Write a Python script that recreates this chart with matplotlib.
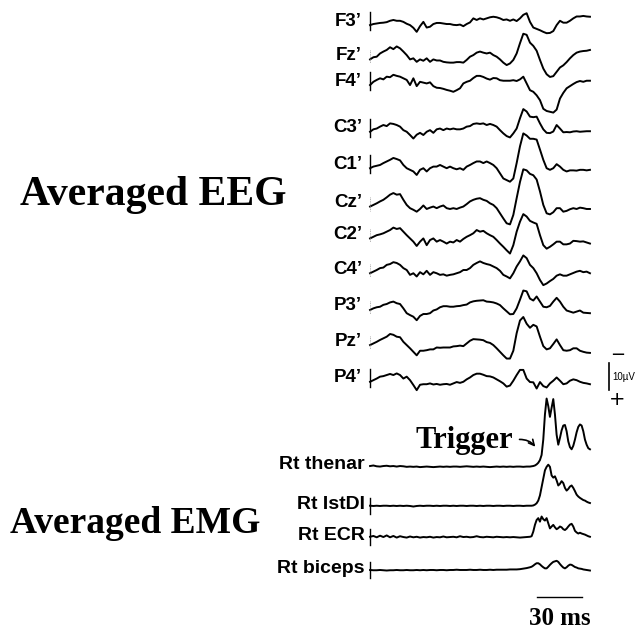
import matplotlib.pyplot as plt
import numpy as np

# sample times (ms, 0 = EMG trigger)
t_eeg = np.linspace(-113.3, 33.3, 67)
t_emg = np.concatenate([np.linspace(-113.3, -6.7, 49), np.linspace(-5.6, 33.3, 36)])

# averaged EEG, microvolts (negative up)
f3 = [0, -0.4, -0.6, -0.8, -0.9, -1.1, -1.6, -1.9, -1.6, -1.6,
      -1.2, -0.5, 0, 1.0, 2.5, 0.4, -1.2, 0.9, 0.6, -0.4,
      -0.8, -0.8, -0.6, -0.4, -0.4, -0.1, 0, -0.2, 0.4, -0.4,
      -1.0, -2.5, -1.9, -2.5, -2.1, -2.5, -2.9, -3.1, -2.9, -2.5,
      -1.9, -2.1, -1.6, -2.1, -1.5, -2.5, -3.8, -4.4, -1.2, 0.9,
      1.4, 1.9, 2.5, 3.0, 2.9, 2.2, 0, -1.6, -0.9, -0.9,
      -1.6, -2.5, -3.2, -3.2, -3.4, -3.2, -3.1]
fz = [0, -0.8, -1.0, -2.2, -2.9, -3.5, -4.5, -3.8, -4.8, -4.1,
      -2.9, -1.6, 0, -0.4, 0.9, 0, 0.5, -0.4, 0.9, 0,
      0.4, 0.4, 0.9, 1.1, 1.2, 1.2, 1.0, 1.0, 1.2, 0.2,
      -1.0, -1.6, -2.5, -2.9, -2.5, -2.2, -2.5, -1.6, -1.0, 0,
      1.2, 2.1, 1.5, 0.2, -2.2, -6.0, -9.5, -9.1, -6.2, -5.0,
      -3.2, 0.2, 3.4, 5.5, 6.5, 6.2, 4.6, 3.0, 2.2, 1.0,
      -0.4, -1.6, -2.5, -2.9, -3.1, -3.2, -3.5]
f4 = [0, -1.2, -1.9, -2.5, -2.1, -3.1, -2.9, -3.8, -3.4, -3.1,
      -2.5, -1.9, 0, -2.5, 0.4, -1.2, -0.9, -0.6, -1.0, 0.4,
      1.0, 1.1, 1.4, 1.8, 2.1, 2.5, 1.9, 1.2, -0.6, -1.2,
      -1.6, -2.6, -3.4, -3.4, -3.0, -2.4, -2.0, -2.6, -2.5, -1.8,
      -1.6, -1.6, -1.6, -1.8, -1.5, -2.1, -3.1, -0.6, 1.9, 2.5,
      3.8, 5.6, 8.8, 9.6, 9.9, 10.2, 9.1, 5.0, 2.9, 1.2,
      0.4, -0.4, -1.1, -1.5, -1.2, -1.6, -1.6]
c3 = [0, -0.9, -1.2, -1.9, -2.5, -2.1, -3.1, -2.9, -2.5, -1.9,
      -0.6, 0, 1.2, 2.5, 1.1, 0.4, 1.2, 0, -0.6, 0.4,
      -0.9, -1.2, -0.6, -1.2, -0.9, -1.2, -0.9, -0.9, -1.2, -1.9,
      -2.1, -2.9, -3.1, -2.9, -3.1, -2.5, -2.9, -2.5, -1.9, -0.6,
      0.6, 1.6, 2.1, 0.6, -1.2, -5.0, -8.4, -7.5, -5.6, -5.4,
      -5.6, -3.1, -0.9, 0.4, 0.5, -0.1, -2.5, -1.2, 0.2, 0.1,
      0.2, -0.1, -0.2, 0, -0.1, -0.2, -0.2]
c1 = [0, -0.6, -0.9, -1.2, -1.9, -2.5, -3.1, -3.8, -3.4, -2.9,
      -1.2, 0, 0.6, 1.2, 2.5, 0.6, 0, 1.2, 0, -0.6,
      -0.6, -1.2, -0.6, 0, -0.6, 0, 0.4, 0, 0.6, -0.6,
      -1.2, -1.9, -2.5, -2.5, -1.9, -2.5, -1.9, -1.2, 0, 1.9,
      3.8, 4.4, 5.0, 3.8, -1.9, -8.1, -12.9, -12.1, -10.9, -10.9,
      -10.6, -6.9, -3.1, 0, 0.6, 0, -1.5, -0.6, 0.6, 1.2,
      0.8, 0.8, 0.9, 0.6, 0.6, 0.8, 0.6]
cz = [0, -0.6, -1.2, -1.9, -2.5, -3.4, -4.4, -5.0, -4.4, -4.6,
      -2.5, -0.6, 0.6, 1.2, 1.9, 0.9, -0.4, 0.9, 0.4, 0,
      0.6, 0, -0.4, 0.6, 0.9, 0.6, 0.9, 0.4, 0, -0.9,
      -1.9, -2.5, -2.9, -3.1, -2.5, -2.1, -1.2, -0.6, 0.6, 2.5,
      4.4, 6.2, 6.6, 3.1, -3.1, -9.1, -13.8, -13.4, -12.1, -11.6,
      -10.0, -5.6, -0.6, 2.5, 2.9, 2.1, 0.6, 0.6, 1.9, 1.6,
      1.0, 0.6, 0.9, 0.4, 0.6, 0.9, 0.9]
c2 = [0, -0.6, -1.2, -1.5, -1.9, -2.5, -3.1, -4.0, -3.5, -3.8,
      -2.5, -1.2, 0, 1.2, 2.8, 1.2, 0, 2.5, 0.6, 0,
      1.2, 0.6, 1.2, 1.9, 1.2, 1.5, 0.6, 1.2, 0.2, -0.6,
      -1.2, -1.9, -3.1, -2.5, -2.8, -1.9, -1.2, -0.6, 0.6, 1.9,
      3.1, 4.4, 5.6, 2.5, -2.5, -6.2, -9.0, -8.1, -6.5, -5.9,
      -5.4, -1.2, 2.5, 3.8, 3.1, 2.2, 1.2, 1.2, 2.2, 2.2,
      1.9, 0.9, 1.0, 1.2, 1.1, 1.5, 1.9]
c4 = [0, -0.6, -1.2, -1.9, -2.1, -3.1, -3.4, -4.1, -3.8, -3.1,
      -1.9, -1.2, 0.6, 0, 1.2, -0.4, 0.4, -0.9, 0.6, -0.4,
      0, 0.6, 0.4, 0.9, 0.6, 0.4, 0, -0.4, -1.2, -1.2,
      -1.9, -3.1, -3.8, -4.4, -3.8, -3.4, -3.1, -2.5, -1.9, -0.9,
      0.6, 1.2, 1.9, 0, -2.5, -4.4, -6.6, -5.6, -3.1, -1.9,
      0, 2.5, 4.4, 3.8, 2.9, 2.1, 0.9, 0.4, 0.9, 0.9,
      0.4, -0.1, -0.6, -0.9, -0.4, -0.6, 0]
p3 = [0, -0.6, -1.0, -1.2, -1.9, -2.2, -2.8, -3.1, -2.5, -2.2,
      -0.6, 1.2, 1.9, 2.5, 3.8, 2.2, 1.5, 1.5, 1.2, 0.2,
      -0.2, -1.0, -1.4, -1.4, -1.2, -1.2, -1.4, -1.5, -1.8, -2.0,
      -2.8, -3.2, -3.4, -3.5, -3.6, -3.1, -3.0, -2.8, -2.4, -1.8,
      -0.6, 0.5, 1.6, 1.5, -0.6, -3.8, -7.2, -6.9, -4.2, -3.5,
      -5.0, -3.1, -1.2, -1.0, -1.5, -3.1, -4.5, -3.1, -1.2, 0.2,
      0.6, 1.0, 0.6, 0.2, 1.0, 1.1, 1.2]
pz = [0, -0.6, -1.2, -1.9, -2.5, -3.1, -4.1, -3.8, -3.1, -2.9,
      -1.2, 0, 1.2, 2.5, 3.8, 2.1, 2.1, 1.9, 1.6, 1.6,
      0.9, 1.0, 0.9, 0.9, 0.9, 0.5, 0.4, 0.2, 0.4, -0.6,
      -1.6, -2.2, -2.1, -2.0, -1.8, -1.1, -0.8, 0, 1.2, 2.5,
      3.8, 5.0, 5.0, 2.1, -4.4, -9.1, -10.4, -7.9, -6.4, -7.5,
      -6.9, -3.1, 0.4, 1.6, 1.2, -0.4, -2.1, 0, 1.9, 2.1,
      1.9, 1.2, 1.2, 2.1, 2.5, 2.8, 2.9]
p4 = [0, -0.6, -1.2, -1.9, -2.1, -2.5, -2.9, -2.5, -3.1, -2.5,
      -1.2, -1.9, -0.6, 1.2, 3.1, 1.1, 0.9, 0.9, 0.6, 1.0,
      0.8, 1.1, 0.9, 0.8, 1.1, 0.6, 0.1, 0.4, 0, -0.9,
      -1.6, -2.5, -3.0, -3.0, -2.6, -2.1, -2.0, -1.6, -0.9, -0.2,
      0.6, 1.8, 1.4, -0.4, -2.5, -4.4, -4.4, -1.2, 0.1, 0.2,
      2.5, 0.1, 1.6, 2.1, 0.6, -0.4, -1.6, -0.4, 0.9, 0.6,
      -0.4, -0.9, -0.6, 0, 0.4, 0.6, 0.9]

# averaged rectified EMG (same display gain)
thenar = [0, -0.2, 0.1, 0.2, 0, -0.1, 0.1, 0, 0.2, 0,
          0.1, 0.3, 0.2, 0.3, 0.2, 0.4, 0.3, 0.2, 0.3, 0.4,
          0.3, 0.2, 0.3, 0.2, 0.3, 0.2, 0.2, 0.3, 0.2, 0.1,
          0.2, 0.3, 0.2, 0.3, 0.2, 0.3, 0.4, 0.3, 0.2, 0.3,
          0.2, 0.3, 0.2, 0.3, 0.2, 0.2, 0.3, 0.2, 0.2,
          0.1, 0, -0.2, -0.6, -1.2, -2.2, -4.1, -9.8, -19.1, -25.0,
          -22.2, -18.2, -21.6, -24.8, -19.1, -11.6, -7.9, -10.4, -13.2, -15.0,
          -15.2, -12.9, -9.1, -7.0, -6.2, -7.5, -9.8, -12.5, -14.5, -15.4,
          -15.0, -12.9, -9.8, -7.9, -6.6, -6.2]
fdi = [0, 0.1, 0, 0.1, 0, 0, 0.1, 0, 0.1, 0,
       0.1, 0, 0.1, 0.3, 0.1, 0, 0.1, 0, 0, 0.1,
       0, 0.1, 0, 0, 0.1, 0, 0.1, 0, 0, 0.1,
       0, 0, 0.1, 0, 0.1, 0, 0, 0.1, 0, 0,
       0.1, 0, 0, 0.1, 0, 0, 0.1, 0, 0,
       0, -0.1, -0.4, -0.9, -1.9, -3.8, -6.9, -10.0, -13.1, -14.4,
       -15.2, -14.4, -11.2, -10.4, -10.9, -9.4, -7.5, -8.1, -9.1, -8.4,
       -6.6, -5.6, -6.2, -7.1, -7.5, -6.6, -5.4, -4.1, -3.4, -2.9,
       -2.5, -2.1, -1.9, -1.5, -1.2, -1.0]
ecr = [0, -0.3, 0.2, -0.4, 0.1, -0.5, 0.2, -0.3, 0.3, -0.2,
       0.1, 0.3, -0.1, 0.2, 0, 0.3, 0.1, 0.2, 0, 0.3,
       0.1, 0.2, -0.1, 0.2, 0.1, 0, 0.2, -0.2, 0.1, 0,
       0.2, 0.1, -0.2, 0.1, 0.2, 0, 0.1, 0.2, 0, 0.1,
       0.2, 0.1, 0.2, 0.1, 0.2, 0.3, 0.2, 0.1, 0,
       -0.2, -1.9, -4.4, -6.2, -6.9, -5.6, -7.5, -6.5, -6.0, -6.9,
       -5.0, -3.1, -3.8, -4.4, -3.5, -2.8, -3.2, -3.8, -3.5, -2.8,
       -2.5, -3.0, -3.8, -4.5, -4.8, -3.8, -2.2, -1.6, -1.2, -1.5,
       -1.2, -1.0, -0.8, -0.5, -0.2, 0]
biceps = [0, 0.1, 0.1, 0, 0.1, 0.2, 0.1, 0.1, 0, 0.1,
          0.1, 0, 0.1, 0.1, 0, 0.1, 0, 0.1, 0, 0,
          0.1, 0, 0, 0.1, 0, 0, -0.1, 0, 0, 0,
          -0.1, 0, 0, -0.1, 0, 0, -0.1, 0, -0.1, -0.1,
          -0.1, -0.1, -0.2, -0.2, -0.2, -0.3, -0.5, -0.7, -1.0,
          -1.2, -1.6, -2.1, -2.5, -2.5, -2.1, -1.5, -1.0, -0.6, -0.6,
          -1.2, -1.9, -2.5, -3.0, -3.2, -3.4, -3.0, -2.2, -1.5, -0.9,
          -0.6, -1.0, -1.6, -2.0, -1.9, -1.5, -1.1, -0.9, -0.6, -0.5,
          -0.4, -0.2, -0.1, 0, 0.1, 0.2]

eeg_labels = ["F3\u2019", "Fz\u2019", "F4\u2019", "C3\u2019", "C1\u2019", "Cz\u2019",
              "C2\u2019", "C4\u2019", "P3\u2019", "Pz\u2019", "P4\u2019"]
emg_labels = ["Rt thenar", "Rt IstDI", "Rt ECR", "Rt biceps"]
eeg_traces = [f3, fz, f4, c3, c1, cz, c2, c4, p3, pz, p4]
emg_traces = [thenar, fdi, ecr, biceps]

# vertical stacking of channels (uV from top of page)
eeg_rows = [9.3, 22.0, 31.5, 48.8, 62.3, 76.5, 88.3, 101.2, 114.8, 127.8, 141.4]
emg_rows = [172.6, 187.3, 198.8, 211.1]
eeg_marks = [True, False, True, True, True, False, False, False, False, False, True]
emg_marks = [False, True, True, True]

sans = 'Liberation Sans'
serif = 'Liberation Serif'

fig = plt.figure(figsize=(6.44, 6.32), dpi=100)
ax = fig.add_axes([0, 0, 1, 1])
ax.set_xlim(-360, 69.33)
ax.set_ylim(234.07, 0)
ax.axis('off')

t0 = t_eeg[0]
for name, row, trace, mark in zip(eeg_labels, eeg_rows, eeg_traces, eeg_marks):
    ax.plot(t_eeg, row + np.array(trace), color='black', lw=1.4)
    if mark:
        ax.plot([t0, t0], [row - 4.8, row + 1.8], color='black', lw=1.0)
    else:
        ax.plot([t0, t0], [row - 3.5, row + 1.5], color='0.6', lw=0.6, ls=(0, (1, 1)))
    ax.text(t0 - 5.3, row - 1.5, name, ha='right', va='center',
            fontsize=13.5, fontweight='bold', family=sans)

for name, row, trace, mark in zip(emg_labels, emg_rows, emg_traces, emg_marks):
    ax.plot(t_emg, row + np.array(trace), color='black', lw=1.4)
    if mark:
        ax.plot([t0, t0], [row - 3.0, row + 3.0], color='black', lw=1.0)
    ax.text(t0 - 3.5, row - 0.5, name, ha='right', va='center',
            fontsize=14, fontweight='bold', family=sans)

# voltage calibration
ax.plot([46, 46], [134.4, 144.4], color='black', lw=1.2)
ax.text(48, 139.8, '10\u00b5V', ha='left', va='center', fontsize=7, family=sans)
ax.text(52, 131.5, '\u2212', ha='center', va='center', fontsize=13, family='DejaVu Sans')
ax.text(51.3, 148.1, '+', ha='center', va='center', fontsize=14, family='DejaVu Sans')

# time calibration
ax.plot([-2, 28], [221.1, 221.1], color='black', lw=1.0)
ax.text(13.3, 229.0, '30 ms', ha='center', va='center', fontsize=18,
        fontweight='bold', family=serif)

ax.text(-346.7, 75.9, 'Averaged EEG', ha='left', va='baseline', fontsize=30,
        fontweight='bold', family=serif)
ax.text(-353.3, 197.4, 'Averaged EMG', ha='left', va='baseline', fontsize=27,
        fontweight='bold', family=serif)

ax.text(-83.3, 165.9, 'Trigger', ha='left', va='baseline', fontsize=22,
        fontweight='bold', family=serif)
ax.annotate('', xy=(-2, 166.3), xytext=(-15.5, 162.8),
            arrowprops=dict(arrowstyle='->', lw=1.2, color='black',
                            connectionstyle='arc3,rad=-0.3'))

fig.savefig('out.png', dpi=100)
